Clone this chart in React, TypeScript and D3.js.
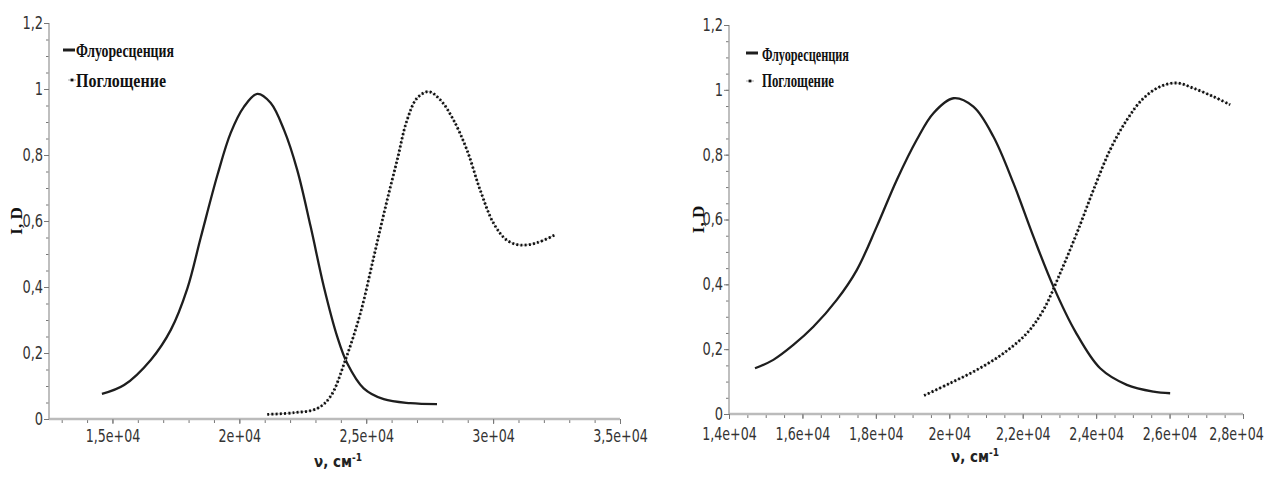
import * as d3 from 'd3';
import React, { useRef, useEffect } from 'react';

// left panel
const leftFluorNu = [14585, 15460, 16510, 17300, 17950, 18480, 19140, 19660, 20180, 20710, 21230, 21760, 22280, 22810, 23330, 23860, 24250, 24900, 25690, 26740, 27790];
const leftFluorI = [0.076, 0.103, 0.179, 0.27, 0.395, 0.55, 0.74, 0.867, 0.946, 0.985, 0.958, 0.876, 0.755, 0.583, 0.401, 0.249, 0.169, 0.093, 0.06, 0.048, 0.045];
const leftAbsNu = [21100, 22150, 23070, 23590, 24180, 24770, 25300, 25760, 26220, 26610, 27000, 27460, 27920, 28440, 28970, 29490, 30020, 30540, 31070, 31720, 32440];
const leftAbsD = [0.014, 0.019, 0.032, 0.068, 0.179, 0.32, 0.492, 0.643, 0.785, 0.906, 0.972, 0.992, 0.967, 0.906, 0.815, 0.694, 0.593, 0.542, 0.527, 0.534, 0.558];
const leftXTicks = [15000, 20000, 25000, 30000, 35000];
const leftXLabels = ['1,5e+04', '2e+04', '2,5e+04', '3e+04', '3,5e+04'];

// right panel
const rightFluorNu = [14708, 15207, 15752, 16297, 16935, 17480, 18024, 18570, 19114, 19567, 20112, 20657, 21200, 21747, 22292, 22837, 23430, 24109, 24835, 25561, 26016];
const rightFluorI = [0.141, 0.167, 0.213, 0.269, 0.352, 0.444, 0.578, 0.722, 0.846, 0.928, 0.974, 0.948, 0.856, 0.712, 0.547, 0.393, 0.255, 0.141, 0.09, 0.069, 0.064];
const rightAbsNu = [19313, 20022, 20749, 21474, 22112, 22564, 23019, 23474, 23926, 24381, 24835, 25289, 25744, 26199, 26651, 27196, 27651];
const rightAbsD = [0.057, 0.095, 0.136, 0.187, 0.249, 0.321, 0.434, 0.558, 0.691, 0.815, 0.907, 0.974, 1.01, 1.021, 1.005, 0.979, 0.954];
const rightXTicks = [14000, 16000, 18000, 20000, 22000, 24000, 26000, 28000];
const rightXLabels = ['1,4e+04', '1,6e+04', '1,8e+04', '2e+04', '2,2e+04', '2,4e+04', '2,6e+04', '2,8e+04'];

const yTicks = [0, 0.2, 0.4, 0.6, 0.8, 1, 1.2];
const yLabels = ['0', '0,2', '0,4', '0,6', '0,8', '1', '1,2'];
const legendNames = ['Флуоресценция', 'Поглощение'];

const tickFont = "'DejaVu Sans Condensed', 'DejaVu Sans', sans-serif";
const legendFont = "'Liberation Serif', 'DejaVu Serif', serif";

function Chart() {
    const ref = useRef<SVGSVGElement>(null);

    useEffect(() => {
        const svg = d3.select(ref.current);
        svg.selectAll('*').remove();

        const panels = [
            { x0: 49, x1: 620, yTop: 23, yBot: 419, dom: [12500, 35000], minor: 1000, pad: 5,
              fNu: leftFluorNu, fV: leftFluorI, aNu: leftAbsNu, aV: leftAbsD,
              ticks: leftXTicks, labels: leftXLabels, titleX: 338, yTitleX: 16,
              leg: { lx: 63, ly: 50, tx: 76, tw: 98, ty: 57, mx: 72, my: 80, t2y: 87, t2w: 90 } },
            { x0: 729, x1: 1243, yTop: 25, yBot: 414, dom: [14000, 28000], minor: 500, pad: 7,
              fNu: rightFluorNu, fV: rightFluorI, aNu: rightAbsNu, aV: rightAbsD,
              ticks: rightXTicks, labels: rightXLabels, titleX: 975, yTitleX: 698,
              leg: { lx: 746, ly: 53, tx: 762, tw: 87, ty: 61, mx: 750, my: 81, t2y: 87, t2w: 72 } },
        ];

        panels.forEach(p => {
            const x = d3.scaleLinear().domain(p.dom).range([p.x0, p.x1]);
            const y = d3.scaleLinear().domain([0, 1.2]).range([p.yBot, p.yTop]);
            const g = svg.append('g');

            // minor ticks
            const xMinor = d3.range(Math.ceil(p.dom[0] / p.minor) * p.minor, p.dom[1] + 1, p.minor);
            g.append('g').attr('transform', 'translate(0,' + p.yBot + ')')
                .call(d3.axisBottom(x).tickValues(xMinor).tickSize(4).tickFormat(() => ''))
                .call(a => a.select('.domain').remove())
                .selectAll('line').attr('stroke', '#777');
            const yMinor = d3.range(0, 1.2001, 0.05);
            g.append('g').attr('transform', 'translate(' + p.x0 + ',0)')
                .call(d3.axisLeft(y).tickValues(yMinor).tickSize(3).tickFormat(() => ''))
                .call(a => a.select('.domain').remove())
                .selectAll('line').attr('stroke', '#777');

            // major ticks + labels
            const xa = g.append('g').attr('transform', 'translate(0,' + p.yBot + ')')
                .call(d3.axisBottom(x).tickValues(p.ticks).tickSize(5).tickPadding(p.pad)
                    .tickFormat((d, i) => p.labels[i]));
            xa.select('.domain').attr('stroke', '#bbb').attr('stroke-width', 2.5).attr('d', 'M' + p.x0 + ',0H' + p.x1);
            xa.selectAll('line').attr('stroke', '#777');
            xa.selectAll('text').attr('font-family', tickFont).attr('font-size', 16).attr('fill', '#333')
                .attr('transform', 'scale(0.88,1.1)')
                // keep the last label inside the page
                .attr('dx', (d: any) => (x(d) + 30 > 1266 ? 1266 - 30 - x(d) : 0) / 0.88);

            const ya = g.append('g').attr('transform', 'translate(' + p.x0 + ',0)')
                .call(d3.axisLeft(y).tickValues(yTicks).tickSize(5).tickPadding(2)
                    .tickFormat((d, i) => yLabels[i]));
            ya.select('.domain').attr('stroke', '#aaa').attr('stroke-width', 1.5).attr('d', 'M0,' + p.yBot + 'V' + p.yTop);
            ya.selectAll('line').attr('stroke', '#777');
            ya.selectAll('text').attr('font-family', tickFont).attr('font-size', 17).attr('fill', '#333')
                .attr('transform', 'scale(0.85,1)');

            const line = d3.line<[number, number]>().curve(d3.curveCatmullRom.alpha(0.5));

            // fluorescence
            g.append('path')
                .attr('d', line(p.fNu.map((v, i) => [x(v), y(p.fV[i])] as [number, number])) as any)
                .attr('fill', 'none').attr('stroke', '#1e1e1e').attr('stroke-width', 2.3);

            // absorption: thin grey line with dense dots
            const absPts = p.aNu.map((v, i) => [x(v), y(p.aV[i])] as [number, number]);
            g.append('path').attr('d', line(absPts) as any)
                .attr('fill', 'none').attr('stroke', '#aaa').attr('stroke-width', 1);
            g.append('path').attr('d', line(absPts) as any)
                .attr('fill', 'none').attr('stroke', '#111').attr('stroke-width', 2.8)
                .attr('stroke-dasharray', '2,2.2');

            // legend
            const L = p.leg;
            g.append('line').attr('x1', L.lx).attr('x2', L.lx + 12).attr('y1', L.ly).attr('y2', L.ly)
                .attr('stroke', '#1e1e1e').attr('stroke-width', 3);
            g.append('line').attr('x1', L.mx - 4).attr('x2', L.mx + 4).attr('y1', L.my).attr('y2', L.my)
                .attr('stroke', '#aaa').attr('stroke-width', 1);
            g.append('rect').attr('x', L.mx - 1.4).attr('y', L.my - 1.4).attr('width', 2.8).attr('height', 2.8).attr('fill', '#111');
            g.append('text').attr('x', L.tx).attr('y', L.ty).text(legendNames[0])
                .attr('font-family', legendFont).attr('font-weight', 'bold').attr('font-size', 19)
                .attr('textLength', L.tw).attr('lengthAdjust', 'spacingAndGlyphs').attr('fill', '#111');
            g.append('text').attr('x', L.tx).attr('y', L.t2y).text(legendNames[1])
                .attr('font-family', legendFont).attr('font-weight', 'bold').attr('font-size', 19)
                .attr('textLength', L.t2w).attr('lengthAdjust', 'spacingAndGlyphs').attr('fill', '#111');

            // axis titles
            const xt = g.append('text').attr('x', p.titleX).attr('y', p.yBot + 48)
                .attr('text-anchor', 'middle').attr('font-family', tickFont).attr('font-weight', 'bold')
                .attr('font-size', 15).attr('fill', '#222');
            xt.append('tspan').text('ν, см');
            xt.append('tspan').attr('dy', -6).attr('font-size', 10).text('-1');

            g.append('text')
                .attr('transform', 'translate(' + p.yTitleX + ',' + ((p.yTop + p.yBot) / 2) + ') rotate(-90)')
                .attr('text-anchor', 'middle').attr('dy', '0.35em')
                .attr('font-family', legendFont).attr('font-weight', 'bold').attr('font-size', 17)
                .attr('fill', '#111').text('I, D');
        });
    }, []);

    return <svg ref={ref} width={1267} height={481} style={{ position: 'absolute', left: 0, top: 0, background: '#fff' }} />;
}

export default function App() {
    return <Chart />;
}
